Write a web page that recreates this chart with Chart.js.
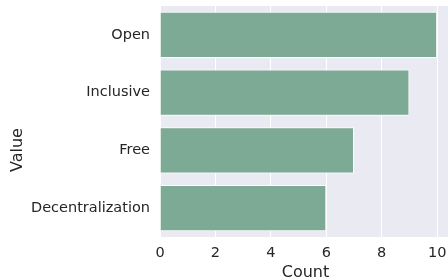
<!DOCTYPE html>
<html><head><meta charset="utf-8">
<script src="https://cdn.jsdelivr.net/npm/chart.js@4"></script>
<style>html,body{margin:0;padding:0;background:#fff;overflow:hidden;}#wrap{width:451px;height:279px;}</style>
</head><body><div id="wrap"><canvas id="c" width="451" height="279"></canvas></div>
<script>
const categories = ["Open", "Inclusive", "Free", "Decentralization"];
const counts = [10, 9, 7, 6];
const xTicks = [0, 2, 4, 6, 8, 10];
const yTitle = "Value";

const bgPlugin = {
  id: 'bg',
  beforeDraw(chart) {
    const {ctx, chartArea: a} = chart;
    ctx.save();
    ctx.fillStyle = '#EAEAF2';
    ctx.fillRect(a.left, a.top, a.right - a.left, a.bottom - a.top);
    ctx.restore();
  },
  afterDraw(chart) {
    const ctx = chart.ctx;
    ctx.save();
    ctx.translate(18, 150);
    ctx.rotate(-Math.PI / 2);
    ctx.fillStyle = '#262626';
    ctx.font = '16px "DejaVu Sans"';
    ctx.textAlign = 'center';
    ctx.textBaseline = 'middle';
    ctx.fillText(yTitle, 0, 0);
    ctx.restore();
  }
};

new Chart(document.getElementById('c'), {
  type: 'bar',
  data: {
    labels: categories,
    datasets: [{
      data: counts,
      backgroundColor: 'rgb(124,170,149)',
      borderColor: '#ffffff',
      borderWidth: 1,
      barPercentage: 0.8,
      categoryPercentage: 1.0
    }]
  },
  options: {
    indexAxis: 'y',
    responsive: false,
    animation: false,
    layout: { padding: { top: 6, right: 0, left: 0, bottom: 0 } },
    plugins: { legend: { display: false }, tooltip: { enabled: false } },
    scales: {
      x: {
        min: 0, max: 10.5,
        afterBuildTicks(s) { s.ticks = xTicks.map(v => ({ value: v })); },
        afterFit(s) { s.height = 42; s.paddingLeft = 0; s.paddingRight = 0; },
        grid: { color: '#ffffff', lineWidth: 1, drawTicks: false },
        border: { display: false },
        ticks: { color: '#262626', font: { family: 'DejaVu Sans', size: 14.5 }, padding: 8, maxRotation: 0 },
        title: { display: true, text: 'Count', color: '#262626', font: { family: 'DejaVu Sans', size: 16 }, padding: { top: 0, bottom: -3 } }
      },
      y: {
        afterFit(s) { s.width = 160; s.paddingTop = 0; s.paddingBottom = 0; },
        grid: { display: false, drawTicks: false },
        border: { display: false },
        ticks: { color: '#262626', font: { family: 'DejaVu Sans', size: 14.5 }, padding: 10 },
        title: { display: false }
      }
    }
  },
  plugins: [bgPlugin]
});
</script>
</body></html>
